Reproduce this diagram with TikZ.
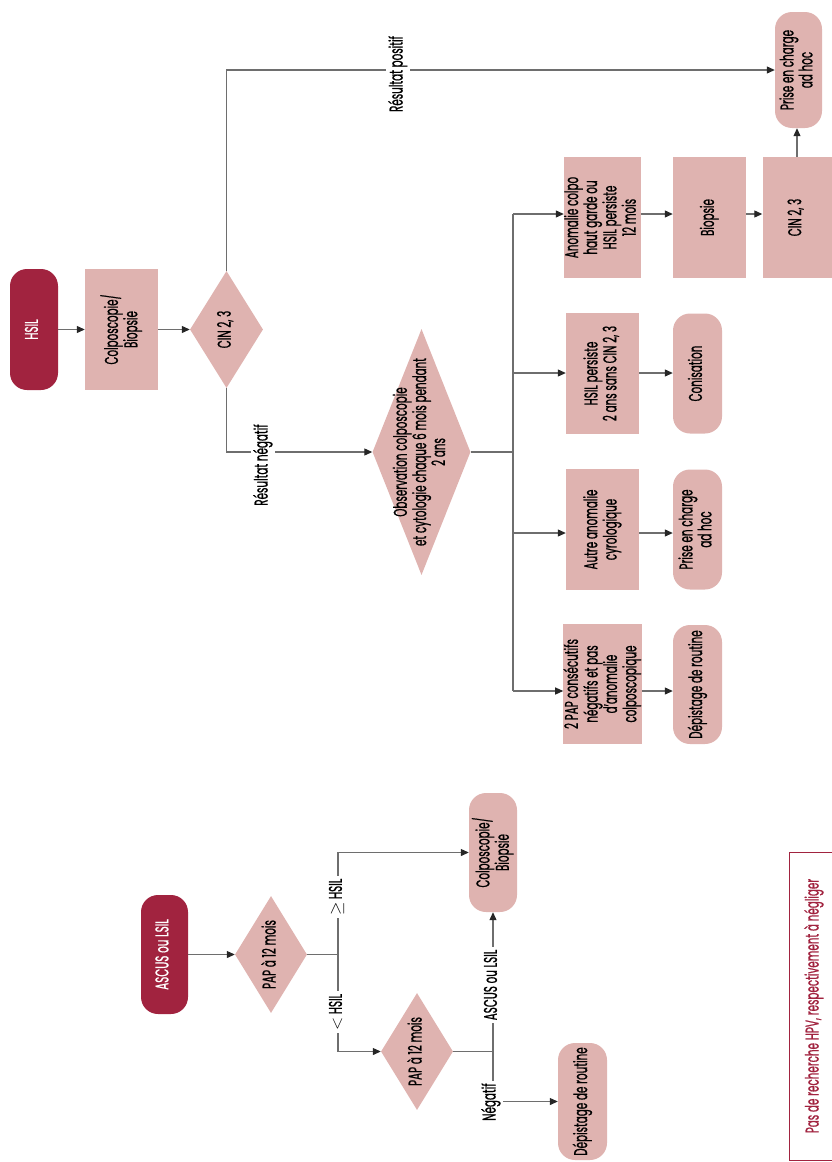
\documentclass[tikz,border=0pt]{standalone}
\usepackage{fontspec}
\setmainfont{Poppins}[FakeStretch=0.56,FakeBold=0.8]
\usetikzlibrary{shapes.geometric,arrows.meta}
\definecolor{dred}{HTML}{A1233F}
\definecolor{pinkbox}{HTML}{DFB3B0}
\definecolor{lgray}{HTML}{6E6E6E}
\newcommand{\rt}[1]{\rotatebox{90}{\def\arraystretch{0.9}\begin{tabular}{@{}c@{}}#1\end{tabular}}}
\begin{document}
\begin{tikzpicture}[x=1pt,y=-1pt,
  font=\fontsize{18.5}{19.5}\selectfont,
  sz/.style 2 args={minimum width=#1pt, minimum height=#2pt},
  box/.style={rectangle, fill=pinkbox, inner sep=0pt},
  term/.style={rectangle, rounded corners=17pt, fill=pinkbox, inner sep=0pt},
  dterm/.style={term, fill=dred, text=white},
  dia/.style={diamond, fill=pinkbox, inner sep=0pt},
  conn/.style={draw=lgray, line width=1.1pt},
  arr/.style={conn, -{Triangle[length=8pt,width=7pt,color=black!85]}},
  lab/.style={fill=white, inner sep=2.5pt}]
\useasboundingbox (0,0) rectangle (831,1162);

% ---------- HSIL branch ----------
\node[dterm, sz={48}{121}] (hsil) at (34,329.5) {\rt{HSIL}};
\node[box, sz={73}{121}] (colpoA) at (121.5,329.5) {\rt{Colposcopie/\\Biopsie}};
\node[dia, sz={73}{117}, label=center:{\rt{CIN 2, 3}}] (cinA) at (226.5,329.5) {};
\node[dia, sz={98}{246}, label=center:{\rt{Observation colposcopie\\et cytologie chaque 6 mois pendant\\2 ans}}] (obs) at (421.5,452) {};

\node[box, sz={73}{121}] (box1) at (602.5,217.5) {\rt{Anomalie colpo\\haut garde ou\\HSIL persiste\\12 mois}};
\node[box, sz={73}{121}] (box2) at (602.5,373.5) {\rt{HSIL persiste\\2 ans sans CIN 2, 3}};
\node[box, sz={73}{121}] (box3) at (602.5,529.5) {\rt{Autre anomalie\\cyrologique}};
\node[box, sz={73}{120}] (box4) at (602.5,684) {\rt{2 PAP consécutifs\\négatifs et pas\\d'anomalie\\colposcopique}};

\node[box, sz={73}{121}] (biop) at (709.5,217.5) {\rt{Biopsie}};
\node[box, sz={69}{121}] (cinB) at (797,217.5) {\rt{CIN 2, 3}};
\node[term, sz={47}{116}] (prise1) at (798.5,70) {\rt{Prise en charge\\ad hoc}};
\node[term, sz={49}{120}] (conis) at (697.5,373.5) {\rt{Conisation}};
\node[term, sz={49}{120}] (prise2) at (697.5,529.5) {\rt{Prise en charge\\ad hoc}};
\node[term, sz={49}{119}] (depA) at (697.5,684.5) {\rt{Dépistage de routine}};

\coordinate (r1) at (513,214);
\coordinate (r2) at (513,373);
\coordinate (r3) at (513,533);
\coordinate (r4) at (513,691);

\draw[arr] (hsil.east) -- (colpoA.west);
\draw[arr] (colpoA.east) -- (cinA.west);
\draw[arr] (cinA.north) |- (prise1.west);
\draw[arr] (cinA.south) |- (obs.west);
\node[lab] (lpos) at (398,74) {\rt{Résultat positif}};
\node[lab] (lneg) at (263,465) {\rt{Résultat négatif}};

\draw[conn] (obs.east) -- (obs.east -| r1);
\draw[conn] (r1) -- (r4);
\draw[arr] (r1) -- (r1 -| box1.west);
\draw[arr] (r2) -- (r2 -| box2.west);
\draw[arr] (r3) -- (r3 -| box3.west);
\draw[arr] (r4) -- (r4 -| box4.west);
\draw[arr] (box1.east |- r1) -- (r1 -| biop.west);
\draw[arr] (biop.east |- r1) -- (r1 -| cinB.west);
\draw[arr] (cinB.north) -- (cinB.north |- prise1.south);
\draw[arr] (box2.east |- r2) -- (r2 -| conis.west);
\draw[arr] (box3.east |- r3) -- (r3 -| prise2.west);
\draw[arr] (box4.east |- r4) -- (r4 -| depA.west);

% ---------- ASCUS / LSIL branch ----------
\node[dterm, sz={47}{119}] (ascus) at (164.5,954.5) {\rt{ASCUS ou LSIL}};
\node[dia, sz={72}{117}, label=center:{\rt{PAP à 12 mois}}] (pap1) at (271,954.5) {};
\node[term, sz={48}{119}] (colpoB) at (493,852.5) {\rt{Colposcopie/\\Biopsie}};
\node[dia, sz={72}{117}, label=center:{\rt{PAP à 12 mois}}] (pap2) at (417,1051.5) {};
\node[term, sz={49}{117}] (depB) at (582.5,1101.5) {\rt{Dépistage de routine}};
\coordinate (j1) at (338,954.5);
\coordinate (j2) at (493,1051.5);

\draw[arr] (ascus.east) -- (pap1.west);
\draw[conn] (pap1.east) -- (j1);
\draw[arr] (j1) |- (colpoB.west);
\draw[arr] (j1) |- (pap2.west);
\draw[conn] (pap2.east) -- (j2);
\draw[arr] (j2) -- (colpoB.south);
\draw[arr] (j2) |- (depB.west);
\node[lab] (lge) at (338,897) {\rt{$\geq$ HSIL}};
\node[lab] (llt) at (338,1012) {\rt{$<$ HSIL}};
\node[lab] (lasc) at (493,985) {\rt{ASCUS ou LSIL}};
\node[lab] (lnegB) at (491,1102) {\rt{Négatif}};

% ---------- note ----------
\node[draw=dred, line width=1pt, text=dred, sz={50}{308}, inner sep=0pt] (note) at (814,1006) {\rt{Pas de recherche HPV, respectivement à négliger}};
\end{tikzpicture}
\end{document}
